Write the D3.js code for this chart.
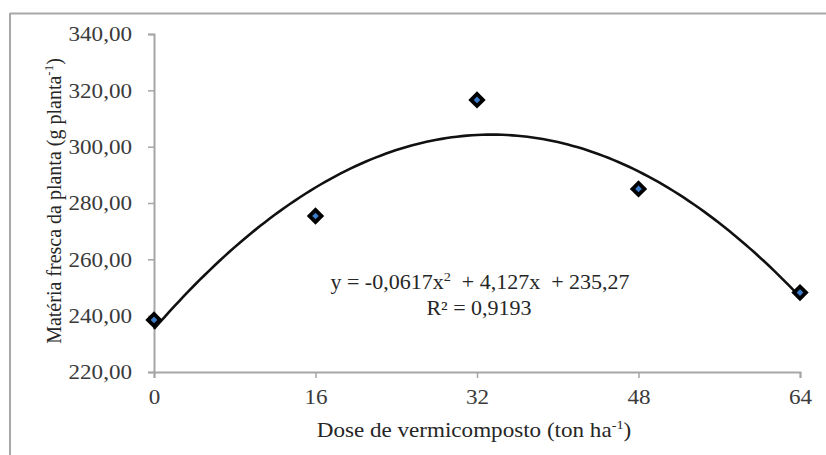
<!DOCTYPE html>
<html><head><meta charset="utf-8">
<script src="https://cdn.jsdelivr.net/npm/d3@7"></script>
<style>
html,body{margin:0;padding:0;background:#fff;}
svg{display:block;}
text{font-family:"Liberation Serif","Times New Roman",serif;}
</style></head>
<body>
<svg id="c" width="826" height="455"></svg>
<script>
const doses = [0, 16, 32, 48, 64];
const massa = [238.5, 275.4, 316.6, 285.0, 248.2];
const xTicks = [0, 16, 32, 48, 64];
const yTicks = [220, 240, 260, 280, 300, 320, 340];
const coef = [-0.0617, 4.127, 235.27]; // a, b, c of the quadratic trend
const eqText = ["y = -0,0617x", "2", "  + 4,127x  + 235,27"];
const r2Text = "R² = 0,9193";

const SX = 1.1; // horizontal stretch of the original picture
const svg = d3.select("#c");
svg.append("line").attr("x1",10).attr("x2",826).attr("y1",13.5).attr("y2",13.5).attr("stroke","#a8a8a8").attr("stroke-width",2);
svg.append("line").attr("x1",10).attr("x2",10).attr("y1",13).attr("y2",455).attr("stroke","#a8a8a8").attr("stroke-width",2);

const x = d3.scaleLinear().domain([0,64]).range([154,800]);
const y = d3.scaleLinear().domain([220,340]).range([372,34]);

const fmt = v => d3.format(".2f")(v).replace(".", ",");

const yAx = svg.append("g").attr("transform","translate(154,0)")
  .call(d3.axisLeft(y).tickValues(yTicks).tickFormat(fmt).tickSize(6).tickPadding(14));
const xAx = svg.append("g").attr("transform","translate(0,372)")
  .call(d3.axisBottom(x).tickValues(xTicks).tickFormat(d3.format("d")).tickSize(6).tickPadding(11));
[yAx,xAx].forEach(g=>{
  g.selectAll("path").attr("stroke","#a6a6a6").attr("stroke-width",2);
  g.selectAll("line").attr("stroke","#a6a6a6").attr("stroke-width",1.5);
  g.selectAll("text").attr("fill","#3a3a3a").style("font-size","21px").style("font-family","'Liberation Serif', serif")
    .attr("transform",`scale(${SX},1)`);
});

// trend curve
const curvePts = d3.range(0, 64.01, 0.5).map(d => [d, coef[0]*d*d + coef[1]*d + coef[2]]);
svg.append("path").datum(curvePts)
  .attr("d", d3.line().x(d=>x(d[0])).y(d=>y(d[1])))
  .attr("fill","none").attr("stroke","#111").attr("stroke-width",2.6);

// markers
svg.selectAll(".m").data(doses).enter().append("path")
  .attr("transform",(d,i)=>`translate(${x(d)},${y(massa[i])}) rotate(45)`)
  .attr("d", d3.symbol().type(d3.symbolSquare).size(72))
  .attr("fill","#3d7cc9").attr("stroke","#000").attr("stroke-width",3.8);

// equation
const eqG = svg.append("g").attr("transform",`translate(480,289) scale(${SX},1)`);
const eq = eqG.append("text").attr("text-anchor","middle")
  .attr("fill","#262626").style("font-size","20px").attr("xml:space","preserve");
eq.append("tspan").text(eqText[0]);
eq.append("tspan").attr("dy",-8).style("font-size","13px").text(eqText[1]);
eq.append("tspan").attr("dy",8).text(eqText[2]);
svg.append("g").attr("transform",`translate(479,315) scale(${SX},1)`)
  .append("text").attr("text-anchor","middle")
  .attr("fill","#262626").style("font-size","20px").text(r2Text);

// x axis title
const xt = svg.append("g").attr("transform",`translate(474,437) scale(${SX},1)`)
  .append("text").attr("text-anchor","middle")
  .attr("fill","#262626").style("font-size","21px");
xt.append("tspan").text("Dose de vermicomposto (ton ha");
xt.append("tspan").attr("dy",-8).style("font-size","13px").text("-1");
xt.append("tspan").attr("dy",8).text(")");

// y axis title
const yt = svg.append("text").attr("transform","translate(61,201) rotate(-90)").attr("text-anchor","middle")
  .attr("fill","#262626").style("font-size","20px");
yt.append("tspan").text("Matéria fresca da planta (g planta");
yt.append("tspan").attr("dy",-8).style("font-size","13px").text("-1");
yt.append("tspan").attr("dy",8).text(")");
</script>
</body></html>
